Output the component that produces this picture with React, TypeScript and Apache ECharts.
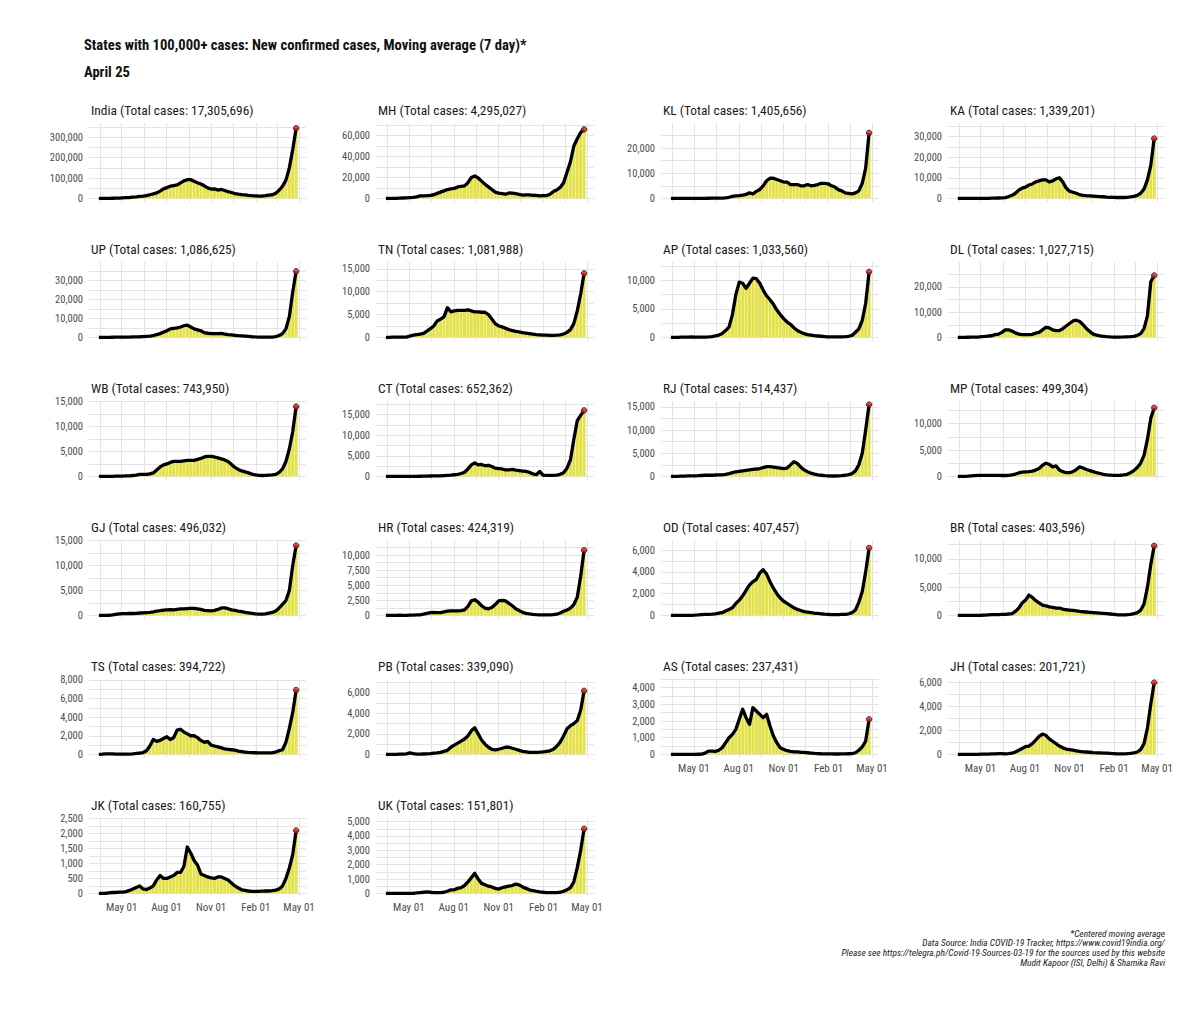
import React, { useEffect, useRef } from "react";
import * as echarts from "echarts";

const FONT = "'Liberation Sans Narrow', 'Arial Narrow', 'Roboto Condensed', 'DejaVu Sans Condensed', sans-serif";

const mainTitle = "States with 100,000+ cases: New confirmed cases, Moving average (7 day)*";
const subTitle = "April 25";
const captionLines = [
  "*Centered moving average",
  "Data Source: India COVID-19 Tracker, https://www.covid19india.org/",
  "Please see https://telegra.ph/Covid-19-Sources-03-19 for the sources used by this website",
  "Mudit Kapoor (ISI, Delhi) & Shamika Ravi",
];

const stateCodes = ["India", "MH", "KL", "KA", "UP", "TN", "AP", "DL", "WB", "CT", "RJ", "MP", "GJ", "HR", "OD", "BR", "TS", "PB", "AS", "JH", "JK", "UK"];
const totalCases = [17305696, 4295027, 1405656, 1339201, 1086625, 1081988, 1033560, 1027715, 743950, 652362, 514437, 499304, 496032, 424319, 407457, 403596, 394722, 339090, 237431, 201721, 160755, 151801];
const tickSteps = [100000, 20000, 10000, 10000, 10000, 5000, 5000, 10000, 5000, 5000, 5000, 5000, 5000, 2500, 2000, 5000, 2000, 2000, 1000, 2000, 500, 1000];
// highest single-day count (tallest daily bar) per panel
const peakDaily = [353000, 68600, 28500, 34800, 38000, 15700, 12600, 28400, 14400, 17400, 15400, 13600, 14400, 11900, 6600, 12700, 7700, 7000, 4300, 6000, 2400, 5000];

// weekly samples of the 7-day moving average, starting 2020-03-15, every 7 days, to 2021-04-25
const firstSampleUTC = [2020, 2, 15];
const xTickDates = ["2020-05-01", "2020-08-01", "2020-11-01", "2021-02-01", "2021-05-01"];
const xMinorDates = ["2020-03-17", "2020-06-16", "2020-09-16", "2020-12-16", "2021-03-17"];

const maIndia = [15,60,150,500,900,1300,1700,2500,3500,4500, 6500,7800,9500,11000,14000,18000,22000,27000,36000,47000, 53000,60000,63000,66000,76000,86000,92000,92000,84000,77000, 71000,62000,52000,46000,47000,41000,44000,39000,33000,29000, 24000,21000,19000,17500,15000,13500,12500,11500,11800,13500, 16000,18000,25000,40000,60000,90000,150000,240000,345000];
const maMH = [5,20,30,100,250,400,550,750,1000,1500, 2400,2500,2700,3000,3500,4800,6000,7200,8500,9000, 9500,11000,11500,12000,15000,20000,21500,19500,16500,13500, 11000,8500,6000,5000,4500,4000,5200,5000,4500,3800, 3200,3300,3300,3000,2800,2500,2600,2700,4000,6500, 8000,10500,15000,25000,35000,50000,57000,63000,66000];
const maKL = [2,8,20,10,8,3,2,1,5,15, 40,60,80,100,130,150,250,450,800,1000, 1100,1300,1600,2200,1800,2800,3500,5000,7000,8000, 8000,7500,7000,6500,6500,5500,5500,5500,5000,5000, 5500,5000,5200,5500,6000,6000,5800,5000,4500,3500, 3000,2200,2000,1800,2200,3000,6000,12000,26000];
const maKA = [1,5,10,15,15,15,10,15,20,50, 100,150,200,250,400,900,1500,2500,4000,5000, 5500,6500,7000,8000,8500,9000,9000,8000,8500,9500, 10000,8000,5000,3500,3000,2500,1800,1500,1300,1200, 1100,1000,900,800,650,550,500,450,450,450, 550,700,1000,1500,2500,4500,9000,16000,29000];
const maUP = [1,5,10,40,80,120,150,150,150,200, 250,300,350,450,600,700,1000,1500,2000,2800, 3500,4500,4800,5000,5500,6200,6500,5500,4500,4000, 3500,2500,2200,2000,2000,2000,2100,1800,1500,1300, 1100,900,800,650,500,350,250,200,150,120, 120,200,400,1000,2000,4500,11000,24000,35000];
const maTN = [2,5,50,80,80,60,80,300,500,600, 700,900,1400,1900,2500,3600,4000,4500,6500,5600, 5800,5900,5900,5900,6000,5800,5600,5600,5500,5500, 5000,4000,3000,2500,2300,2000,1700,1500,1300,1200, 1050,950,850,700,600,550,500,480,450,450, 480,550,750,1100,1700,3000,5800,9500,14000];
const maAP = [2,3,20,40,45,55,70,60,50,55, 60,90,150,250,400,700,1200,1800,4000,7500, 9700,9500,8600,9500,10400,10300,9500,8300,7300,6600, 5800,4800,4000,3300,2700,2300,1700,1200,900,650, 500,400,300,250,200,150,110,80,80,80, 100,120,200,350,900,1500,3000,6000,11500];
const maDL = [1,4,15,60,100,100,150,300,400,550, 650,1100,1300,2000,3000,3000,2500,1800,1300,1100, 1100,1100,1200,1700,2000,3000,4000,3800,3000,2700, 2700,3500,4500,5500,6500,6800,6300,5000,3500,2300, 1300,900,600,450,300,200,150,130,150,180, 250,300,400,800,1500,3500,8500,22000,24500];
const maWB = [0,1,3,8,20,40,50,60,100,120, 180,250,400,400,400,500,700,1300,1900,2300, 2500,2800,3000,3000,3000,3100,3200,3200,3200,3400, 3600,3900,4000,4000,3900,3700,3500,3300,3000,2400, 1800,1400,1100,900,700,450,300,200,180,200, 250,300,400,800,1500,3000,5500,9000,14000];
const maCT = [0,1,3,3,5,5,5,10,15,20, 40,60,80,100,120,150,150,200,250,300, 400,500,700,1000,1800,2800,3300,2800,2900,2600, 2700,2400,2000,1900,1800,1600,1600,1700,1500,1400, 1300,1200,1000,600,400,1200,300,250,250,250, 300,500,900,2000,4000,9000,13500,14800,16000];
const maRJ = [1,5,10,40,80,100,120,120,150,200, 250,250,250,300,350,350,450,600,800,1000, 1100,1200,1300,1400,1500,1600,1700,1900,2100,2100, 2000,1900,1800,1700,1800,2500,3200,2800,2000,1400, 1000,700,500,350,250,150,100,90,90,100, 150,250,400,600,1200,2500,5000,10000,15500];
const maMP = [0,2,10,40,100,150,200,200,180,200, 200,200,180,170,170,200,300,450,650,800, 850,900,1000,1200,1500,2100,2500,2300,1800,2000, 1200,900,700,700,900,1300,1800,1600,1300,1100, 900,700,550,400,300,250,200,200,220,280, 400,700,1100,1700,2500,4000,7000,11000,13000];
const maGJ = [0,5,10,30,100,200,300,350,350,380, 380,420,480,500,550,600,700,880,950,1050, 1100,1150,1100,1200,1300,1300,1350,1400,1400,1300, 1200,1000,950,900,1000,1200,1500,1500,1350,1100, 1000,850,750,600,500,400,300,270,260,300, 450,600,900,1500,2200,3000,5000,10000,14000];
const maHR = [0,2,5,15,25,20,20,50,60,80, 100,200,350,450,500,450,450,600,700,750, 750,750,800,900,1500,2400,2600,2200,1600,1200, 1100,1300,1800,2400,2500,2400,2000,1600,1100,800, 500,350,250,180,130,100,100,100,100,120, 200,400,700,900,1200,1800,3000,6500,10800];
const maOD = [0,1,2,5,5,5,10,20,40,80, 100,100,120,150,200,250,400,550,700,1100, 1400,1800,2300,2800,3100,3300,3900,4200,3800,3100, 2500,2000,1600,1300,1100,900,700,550,450,350, 300,250,200,180,150,120,100,80,70,80, 90,100,150,250,500,1200,2200,4000,6200];
const maBR = [0,1,3,5,10,15,20,30,60,100, 150,150,150,200,200,250,300,700,1300,2200, 2700,3600,3200,2600,2200,1800,1700,1500,1400,1300, 1300,1100,1000,950,900,800,700,650,600,550, 500,450,400,350,300,250,180,120,100,100, 120,180,300,500,900,2000,5000,9000,12300];
const maTS = [10,20,50,60,50,40,30,30,40,40, 60,100,150,200,400,900,1600,1400,1500,1700, 1900,1600,1800,2600,2700,2400,2200,2000,2000,1800, 1500,1300,1400,1000,900,800,700,600,550,500, 450,350,300,250,220,200,180,160,160,160, 170,180,250,400,500,1300,2800,4500,6900];
const maPB = [0,3,5,10,20,30,50,150,80,30, 30,40,50,80,120,150,200,300,400,700, 900,1100,1300,1500,1800,2300,2600,2000,1400,1000, 700,500,450,500,600,700,700,600,500,400, 300,250,200,200,200,220,250,300,350,500, 800,1200,1800,2500,2800,3000,3300,4300,6200];
const maAS = [0,1,2,5,5,3,2,3,10,20, 80,200,200,180,250,400,700,1000,1200,1500, 2100,2700,2200,1800,2800,2600,2400,2200,2400,1700, 1100,700,400,300,220,180,150,150,130,120, 100,80,60,50,40,35,30,30,25,25, 30,30,40,50,100,250,450,800,2100];
const maJH = [0,0,1,3,5,5,10,20,20,30, 40,50,60,60,50,60,100,200,350,500, 650,700,900,1200,1500,1700,1600,1300,1100,900, 700,550,450,400,350,300,250,220,200,180, 150,130,120,110,100,90,70,50,50,50, 60,80,120,200,400,900,2200,4200,6000];
const maJK = [0,2,5,20,30,30,40,40,60,100, 150,200,250,150,130,180,250,450,600,500, 500,550,600,700,700,900,1550,1350,1100,950, 650,600,550,520,500,550,550,500,450,350, 250,180,120,100,80,70,70,70,75,80, 80,90,110,150,250,500,850,1300,2100];
const maUK = [0,1,2,5,5,3,2,3,10,30, 60,80,100,80,60,50,60,80,150,250, 250,350,400,550,800,1100,1400,1000,700,600, 500,450,350,300,400,450,500,550,650,600, 450,350,250,200,150,100,80,60,50,50, 60,80,150,250,400,800,1800,3000,4500];

const stateSeries = [maIndia, maMH, maKL, maKA, maUP, maTN, maAP, maDL, maWB, maCT, maRJ, maMP, maGJ, maHR, maOD, maBR, maTS, maPB, maAS, maJH, maJK, maUK];

const MONTHS = ["Jan", "Feb", "Mar", "Apr", "May", "Jun", "Jul", "Aug", "Sep", "Oct", "Nov", "Dec"];
const toUTC = (s: string) => {
  const [y, m, d] = s.split("-").map(Number);
  return Date.UTC(y, m - 1, d);
};
const fmtDate = (v: number) => {
  const d = new Date(v);
  return MONTHS[d.getUTCMonth()] + " " + String(d.getUTCDate()).padStart(2, "0");
};

function buildOption() {
  const n = maIndia.length;
  const dates = Array.from({ length: n }, (_, i) => Date.UTC(firstSampleUTC[0], firstSampleUTC[1], firstSampleUTC[2] + 7 * i));
  const span = dates[n - 1] - dates[0];
  const xMin = dates[0] - 0.05 * span;
  const xMax = dates[n - 1] + 0.05 * span;
  const xTicks = xTickDates.map(toUTC);
  const xGrid = [...xTicks, ...xMinorDates.map(toUTC)].sort((a, b) => a - b);

  const colLeft = [89, 376, 661, 948];
  const colRight = [306, 594, 879, 1164];
  const bottomPanels = ["JK", "UK", "AS", "JH"];

  const grid: any[] = [];
  const xAxis: any[] = [];
  const yAxis: any[] = [];
  const series: any[] = [];
  const graphic: any[] = [];

  graphic.push({ type: "text", x: 84, y: 45, style: { text: mainTitle, fontFamily: FONT, fontSize: 14.6, fontWeight: "bold", fill: "#111", verticalAlign: "middle" } });
  graphic.push({ type: "text", x: 84, y: 72, style: { text: subTitle, fontFamily: FONT, fontSize: 14.6, fontWeight: "bold", fill: "#111", verticalAlign: "middle" } });
  captionLines.forEach((t, i) => {
    graphic.push({ type: "text", x: 1165, y: 933 + 9.8 * i, style: { text: t, fontFamily: FONT, fontSize: 9.4, fontStyle: "italic", fill: "#222", align: "right", verticalAlign: "middle" } });
  });

  stateCodes.forEach((code, k) => {
    const r = Math.floor(k / 4);
    const c = k % 4;
    const titleY = 110 + 139 * r;
    const vals = stateSeries[k];
    const M = Math.max(peakDaily[k], ...vals);
    const step = tickSteps[k];
    const yMax = 1.05 * M;
    const majors: number[] = [];
    for (let v = 0; v <= yMax; v += step) majors.push(v);
    const gridVals: number[] = [];
    for (let v = 0; v <= yMax; v += step / 2) gridVals.push(v);

    grid.push({ left: colLeft[c], width: colRight[c] - colLeft[c], top: titleY + 13, height: 79 });
    xAxis.push({
      type: "value", gridIndex: k, min: xMin, max: xMax, scale: true,
      axisLine: { show: false },
      axisTick: { show: false, customValues: xGrid },
      splitLine: { show: true, lineStyle: { color: "#e4e4e4", width: 1 } },
      axisLabel: { show: bottomPanels.includes(code), customValues: xTicks, formatter: (v: number) => fmtDate(v), color: "#4d4d4d", fontSize: 11, fontFamily: FONT, margin: 5 },
    });
    yAxis.push({
      type: "value", gridIndex: k, min: -0.05 * M, max: yMax,
      axisLine: { show: false },
      axisTick: { show: false, customValues: gridVals },
      splitLine: { show: true, lineStyle: { color: "#e4e4e4", width: 1 } },
      axisLabel: { customValues: majors, formatter: (v: number) => Math.round(v).toLocaleString("en-US"), color: "#4d4d4d", fontSize: 10.5, fontFamily: FONT, margin: 6 },
    });
    const pts = dates.map((d, i) => [d, vals[i]]);
    series.push({ type: "bar", xAxisIndex: k, yAxisIndex: k, data: pts, barWidth: 3, itemStyle: { color: "#e3e24a" }, silent: true, z: 1 });
    series.push({ type: "line", xAxisIndex: k, yAxisIndex: k, data: pts, showSymbol: false, lineStyle: { color: "#000", width: 3.3, join: "round" }, silent: true, z: 3 });
    series.push({ type: "scatter", xAxisIndex: k, yAxisIndex: k, data: [pts[n - 1]], symbolSize: 5.5, itemStyle: { color: "#c62828", borderColor: "#4a0a0a", borderWidth: 1 }, silent: true, z: 4 });
    graphic.push({ type: "text", x: colLeft[c] + 2, y: titleY, style: { text: `${code} (Total cases: ${totalCases[k].toLocaleString("en-US")})`, fontFamily: FONT, fontSize: 13.4, fill: "#1a1a1a", verticalAlign: "middle" } });
  });

  return {
    animation: false,
    backgroundColor: "#ffffff",
    textStyle: { fontFamily: FONT },
    grid, xAxis, yAxis, series, graphic,
  };
}

export default function App() {
  const ref = useRef<HTMLDivElement>(null);
  useEffect(() => {
    if (!ref.current) return;
    const chart = echarts.init(ref.current, undefined, { renderer: "svg" });
    chart.setOption(buildOption() as any);
    return () => chart.dispose();
  }, []);
  return <div ref={ref} style={{ position: "absolute", left: 0, top: 0, width: 1200, height: 1014, background: "#fff" }} />;
}
